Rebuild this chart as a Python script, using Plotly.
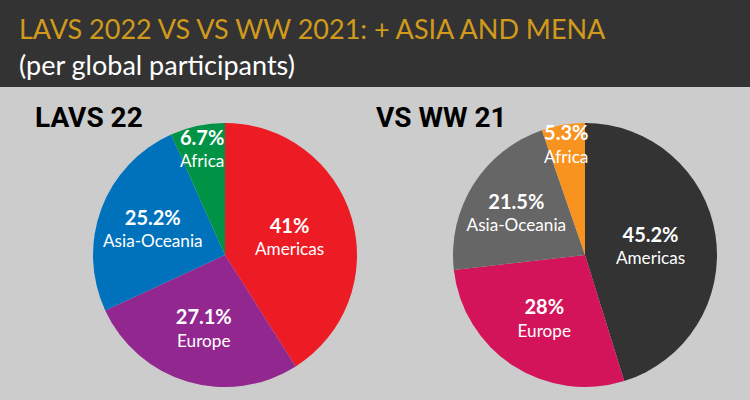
import plotly.graph_objects as go

# data
regions = ["Americas", "Europe", "Asia-Oceania", "Africa"]
lavs_22 = [41, 27.1, 25.2, 6.7]
ww_21 = [45.2, 28, 21.5, 5.3]
lavs_22_pct = ["41%", "27.1%", "25.2%", "6.7%"]
ww_21_pct = ["45.2%", "28%", "21.5%", "5.3%"]

lavs_colors = ["#ED1C24", "#92278F", "#0072BC", "#009245"]
ww_colors = ["#333333", "#D4145A", "#666666", "#F7931E"]

label_tpl = ("<span style='font-size:21px'><b>%{customdata}</b></span><br>"
             "%{label}")

fig = go.Figure()

fig.add_trace(go.Pie(
    labels=regions, values=lavs_22, customdata=lavs_22_pct,
    sort=False, direction="clockwise", rotation=0,
    marker=dict(colors=lavs_colors, line=dict(width=0)),
    texttemplate=label_tpl, textposition="inside",
    insidetextorientation="horizontal",
    textfont=dict(color="white", size=18, family="Lato"),
    domain=dict(x=[0.124, 0.476], y=[0.0325, 0.6925]),
    hoverinfo="skip", showlegend=False,
))

fig.add_trace(go.Pie(
    labels=regions, values=ww_21, customdata=ww_21_pct,
    sort=False, direction="clockwise", rotation=0,
    marker=dict(colors=ww_colors, line=dict(width=0)),
    texttemplate=label_tpl, textposition="inside",
    insidetextorientation="horizontal",
    textfont=dict(color="white", size=18, family="Lato"),
    domain=dict(x=[0.604, 0.956], y=[0.0325, 0.6925]),
    hoverinfo="skip", showlegend=False,
))

# dark header band
fig.add_shape(type="rect", xref="paper", yref="paper",
              x0=0, x1=1, y0=1 - 87 / 400, y1=1,
              fillcolor="#333333", line=dict(width=0), layer="below")

fig.add_annotation(text="LAVS 2022 VS VS WW 2021: + ASIA AND MENA",
                   xref="paper", yref="paper", x=17 / 750, y=1 - 28 / 400,
                   xanchor="left", yanchor="middle", showarrow=False,
                   font=dict(family="Lato", size=27, color="#D19A1C"))
fig.add_annotation(text="(per global participants)",
                   xref="paper", yref="paper", x=17 / 750, y=1 - 65 / 400,
                   xanchor="left", yanchor="middle", showarrow=False,
                   font=dict(family="Lato", size=27, color="white"))

fig.add_annotation(text="<b>LAVS 22</b>",
                   xref="paper", yref="paper", x=33 / 750, y=1 - 117 / 400,
                   xanchor="left", yanchor="middle", showarrow=False,
                   font=dict(family="Roboto", size=28, color="black"))
fig.add_annotation(text="<b>VS WW 21</b>",
                   xref="paper", yref="paper", x=374 / 750, y=1 - 117 / 400,
                   xanchor="left", yanchor="middle", showarrow=False,
                   font=dict(family="Roboto", size=28, color="black"))

fig.update_layout(
    width=750, height=400,
    margin=dict(l=0, r=0, t=0, b=0),
    paper_bgcolor="#CCCCCC",
    plot_bgcolor="#CCCCCC",
    uniformtext=dict(minsize=16, mode="show"),
)

fig.write_html("out.html", config={"displayModeBar": False},
               post_script="document.body.style.margin='0';")
